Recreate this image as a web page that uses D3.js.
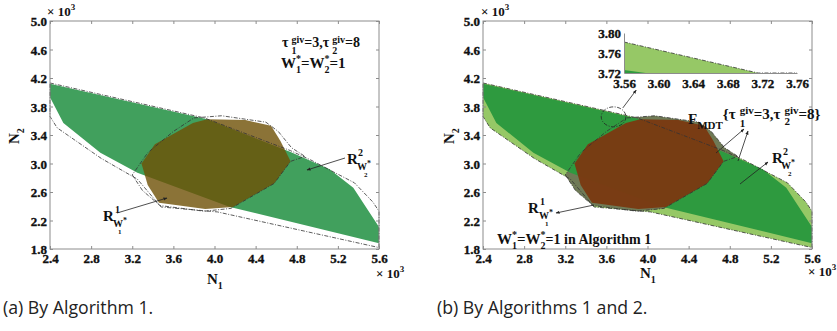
<!DOCTYPE html>
<html>
<head>
<meta charset="utf-8">
<script src="https://cdn.jsdelivr.net/npm/d3@7"></script>
<style>
  body { margin: 0; background: #fff; }
  svg { display: block; }
  .serif { font-family: "Liberation Serif", "Times New Roman", serif; font-weight: bold; fill: #111; }
</style>
</head>
<body>
<svg id="chart" width="837" height="331"></svg>
<script>
// axis ticks (x1000)
const xTicks = [2.4, 2.8, 3.2, 3.6, 4.0, 4.4, 4.8, 5.2, 5.6];
const yTicks = [1.8, 2.2, 2.6, 3.0, 3.4, 3.8, 4.2, 4.6, 5.0];

// R^2_{W2*} region (green)
const r2Region = [[2.4, 4.12], [3.93, 3.62], [4.74, 3.16], [5.12, 2.92], [5.35, 2.66], [5.49, 2.35],
  [5.6, 2.11], [5.6, 1.88], [4.15, 2.39], [3.25, 2.87], [2.89, 3.15], [2.53, 3.57], [2.4, 3.93]];
// R^1_{W1*} region (brown)
const r1Region = [[3.79, 3.57], [3.93, 3.62], [4.30, 3.61], [4.55, 3.53], [4.64, 3.32], [4.74, 3.03],
  [4.58, 2.72], [4.18, 2.39], [3.91, 2.36], [3.46, 2.45], [3.35, 2.70], [3.29, 3.00], [3.42, 3.27]];
// F_MDT boundaries (dash-dot in a, filled in b)
const r2Outer = [[2.4, 4.13], [3.90, 3.64], [4.74, 3.18], [4.95, 3.04], [5.16, 2.88], [5.36, 2.73],
  [5.54, 2.46], [5.6, 2.33], [5.6, 1.82], [4.03, 2.32], [3.48, 2.39], [3.25, 2.78], [2.9, 3.07],
  [2.47, 3.50], [2.4, 3.66]];
const r1Outer = [[3.80, 3.64], [4.07, 3.67], [4.50, 3.58], [4.62, 3.45], [4.75, 3.22], [4.88, 3.10],
  [4.74, 3.03], [4.58, 2.72], [4.16, 2.37], [3.90, 2.33], [3.47, 2.41], [3.30, 2.62], [3.20, 2.84],
  [3.35, 3.15], [3.60, 3.45]];

// zoomed inset of panel (b)
const insetXTicks = [3.56, 3.60, 3.64, 3.68, 3.72, 3.76];
const insetYTicks = [3.72, 3.76, 3.80];
const insetLight = [[3.56, 3.782], [3.715, 3.72], [3.56, 3.72]];
const insetDark = [[3.56, 3.726], [3.585, 3.72], [3.56, 3.72]];
const insetEdge = [[3.56, 3.782], [3.715, 3.72], [3.76, 3.72]];

const svg = d3.select('#chart');
const fmt = d3.format('.1f');
const SERIF = '"Liberation Serif", "Times New Roman", serif';

const defs = svg.append('defs');
defs.append('marker').attr('id', 'arr').attr('viewBox', '0 0 10 10')
  .attr('refX', 9).attr('refY', 5).attr('markerWidth', 5).attr('markerHeight', 5)
  .attr('orient', 'auto')
  .append('path').attr('d', 'M0,1L10,5L0,9Z').attr('fill', '#222');

function txt(g, x, y, s, size, cls) {
  return g.append('text').attr('class', cls || 'serif').attr('x', x).attr('y', y)
    .attr('font-size', size).text(s);
}

// text run with super/sub scripts; stack:true puts a part under the previous one
function rich(g, x0, y0, parts) {
  let cx = x0, lastStart = x0, lastEnd = x0;
  parts.forEach(p => {
    const px = p.stack ? lastStart : cx;
    const t = txt(g, px, y0 + (p.dy || 0), p.t, p.s || 13);
    const w = t.node().getComputedTextLength();
    if (p.stack) { cx = Math.max(lastEnd, px + w); lastEnd = cx; }
    else { lastStart = px; lastEnd = px + w; cx = lastEnd + (p.gap || 0); }
  });
  return cx;
}

function styleTicks(a) {
  a.attr('font-family', null).attr('font-size', null);
  a.selectAll('line').attr('stroke', '#8c8c8c');
  a.selectAll('text')
    .attr('font-family', SERIF).attr('font-weight', 'bold').attr('font-size', 13)
    .attr('fill', '#111').attr('stroke', '#111').attr('stroke-width', 0.35);
}

function frame(g, x, y, xt, yt, tickFmt) {
  const [x0, x1] = x.range(), [y0, y1] = y.range();
  g.append('rect').attr('x', x0).attr('y', y1).attr('width', x1 - x0).attr('height', y0 - y1)
    .attr('fill', 'none').attr('stroke', '#8c8c8c').attr('stroke-width', 1);
  const ax = g.append('g').attr('transform', `translate(0,${y0})`)
    .call(d3.axisBottom(x).tickValues(xt).tickFormat(tickFmt).tickSizeInner(-3).tickSizeOuter(0).tickPadding(6));
  const at = g.append('g').attr('transform', `translate(0,${y1})`)
    .call(d3.axisTop(x).tickValues(xt).tickFormat(() => '').tickSizeInner(-3).tickSizeOuter(0));
  const ay = g.append('g').attr('transform', `translate(${x0},0)`)
    .call(d3.axisLeft(y).tickValues(yt).tickFormat(tickFmt).tickSizeInner(-3).tickSizeOuter(0).tickPadding(3));
  const ar = g.append('g').attr('transform', `translate(${x1},0)`)
    .call(d3.axisRight(y).tickValues(yt).tickFormat(() => '').tickSizeInner(-3).tickSizeOuter(0));
  [ax, at, ay, ar].forEach(a => { a.select('.domain').remove(); styleTicks(a); });
  ay.selectAll('text').attr('dy', '0.35em');
  ax.selectAll('text').attr('dy', '0.6em');
}

function poly(g, x, y, pts, fill, opacity) {
  return g.append('path').datum(pts)
    .attr('d', d3.line().x(d => x(d[0])).y(d => y(d[1]))(pts) + 'Z')
    .attr('fill', fill).attr('fill-opacity', opacity == null ? 1 : opacity);
}

function dashed(g, x, y, pts, closed) {
  g.append('path').datum(pts)
    .attr('d', d3.line().x(d => x(d[0])).y(d => y(d[1]))(pts) + (closed ? 'Z' : ''))
    .attr('fill', 'none').attr('stroke', '#333').attr('stroke-width', 0.8)
    .attr('stroke-dasharray', '4,1.5,1,1.5');
}

function arrow(g, x1, y1, x2, y2) {
  g.append('line').attr('x1', x1).attr('y1', y1).attr('x2', x2).attr('y2', y2)
    .attr('stroke', '#222').attr('stroke-width', 0.8).attr('marker-end', 'url(#arr)');
}

function tenCube(g, x, y) {
  rich(g, x, y, [{ t: '× 10', s: 13 }, { t: '3', s: 9, dy: -6 }]);
}

// ---------- panel (a) ----------
{
  const g = svg.append('g');
  const x = d3.scaleLinear().domain([2.4, 5.6]).range([50, 379]);
  const y = d3.scaleLinear().domain([1.8, 5.0]).range([249, 21]);

  poly(g, x, y, r2Region, '#41a05d');
  poly(g, x, y, r1Region, '#6e5005', 0.8);
  dashed(g, x, y, r2Outer, true);
  dashed(g, x, y, r1Outer, true);
  frame(g, x, y, xTicks, yTicks, fmt);

  tenCube(g, 47, 16);
  tenCube(g, 376, 278);
  rich(g, 207, 284, [{ t: 'N', s: 15 }, { t: '1', s: 10, dy: 5 }]);
  const n2 = g.append('g').attr('transform', 'translate(19,144) rotate(-90)');
  rich(n2, 0, 0, [{ t: 'N', s: 15 }, { t: '2', s: 10, dy: 5 }]);

  rich(g, 282, 47, [{ t: 'τ', s: 14, gap: 3 }, { t: 'giv', s: 10, dy: -4 }, { t: '1', s: 10, dy: 7, stack: true },
    { t: '=3,τ', s: 14, gap: 3 }, { t: 'giv', s: 10, dy: -4 }, { t: '2', s: 10, dy: 7, stack: true }, { t: '=8', s: 14 }]);
  rich(g, 281, 68, [{ t: 'W', s: 15 }, { t: '*', s: 10, dy: -6 }, { t: '1', s: 10, dy: 5, stack: true },
    { t: '=W', s: 15 }, { t: '*', s: 10, dy: -6 }, { t: '2', s: 10, dy: 5, stack: true }, { t: '=1', s: 15 }]);

  // R^2 label
  txt(g, 347, 164, 'R', 15); txt(g, 358, 156, '2', 10);
  txt(g, 357, 170, 'W', 10); txt(g, 367, 166, '*', 8); txt(g, 364, 177, '2', 7);
  arrow(g, 345, 158, 307, 170);
  // R^1 label
  txt(g, 103, 221, 'R', 15); txt(g, 115, 213, '1', 10);
  txt(g, 113, 227, 'W', 10); txt(g, 123, 223, '*', 8); txt(g, 118, 234, '1', 7);
  arrow(g, 117, 213, 167, 198);

  txt(g, 3, 314, '(a) By Algorithm 1.', 17.7, 'cap');
}

// ---------- panel (b) ----------
{
  const g = svg.append('g');
  const x = d3.scaleLinear().domain([2.4, 5.6]).range([483, 812]);
  const y = d3.scaleLinear().domain([1.8, 5.0]).range([249, 21]);

  poly(g, x, y, r2Outer, '#96c866');
  poly(g, x, y, r1Outer, '#6f7a56');
  poly(g, x, y, r2Region, '#2e9a3f');
  poly(g, x, y, r1Region, '#7a3a12', 0.97);
  dashed(g, x, y, r2Outer, true);
  dashed(g, x, y, r1Outer, true);
  frame(g, x, y, xTicks, yTicks, fmt);

  // dashed ellipse marking the zoomed spot
  g.append('ellipse').attr('cx', x(3.67)).attr('cy', y(3.655)).attr('rx', x(3.79) - x(3.67)).attr('ry', y(3.5) - y(3.64))
    .attr('fill', 'none').attr('stroke', '#222').attr('stroke-width', 0.8).attr('stroke-dasharray', '4,1.5,1,1.5');
  arrow(g, x(3.76), y(3.78), x(3.89), y(4.03));

  // inset
  const ix = d3.scaleLinear().domain([3.56, 3.76]).range([624, 797]);
  const iy = d3.scaleLinear().domain([3.72, 3.80]).range([73, 33]);
  g.append('rect').attr('x', 624).attr('y', 33).attr('width', 173).attr('height', 40).attr('fill', '#fff');
  poly(g, ix, iy, insetLight, '#96c866');
  poly(g, ix, iy, insetDark, '#2e9a3f');
  dashed(g, ix, iy, insetEdge, false);
  const bx = g.append('g').attr('transform', 'translate(0,73)')
    .call(d3.axisBottom(ix).tickValues(insetXTicks).tickFormat(d3.format('.2f')).tickSize(0).tickPadding(7));
  const by = g.append('g').attr('transform', 'translate(624,0)')
    .call(d3.axisLeft(iy).tickValues(insetYTicks).tickFormat(d3.format('.2f')).tickSize(0).tickPadding(3));
  [bx, by].forEach(a => { a.select('.domain').attr('stroke', '#8c8c8c'); styleTicks(a); });
  by.selectAll('text').attr('dy', '0.35em');
  bx.selectAll('text').attr('dy', '0.6em');

  tenCube(g, 481, 16);
  tenCube(g, 808, 276);
  rich(g, 640, 278, [{ t: 'N', s: 15 }, { t: '1', s: 10, dy: 5 }]);
  const n2 = g.append('g').attr('transform', 'translate(454,144) rotate(-90)');
  rich(n2, 0, 0, [{ t: 'N', s: 15 }, { t: '2', s: 10, dy: 5 }]);

  // F_MDT label
  rich(g, 688, 124, [{ t: 'F', s: 15 }, { t: 'MDT', s: 11, dy: 5 }, { t: '{τ', s: 15, dy: -5, gap: 4 },
    { t: 'giv', s: 11, dy: -10 }, { t: '1', s: 11, dy: 3, stack: true },
    { t: '=3,τ', s: 15, dy: -5, gap: 4 }, { t: 'giv', s: 11, dy: -10 }, { t: '2', s: 11, dy: 1, stack: true },
    { t: '=8}', s: 15, dy: -5 }]);
  arrow(g, 716, 153, 744, 129);
  arrow(g, 738, 161, 748, 131);

  // R^2 label
  txt(g, 772, 163, 'R', 15); txt(g, 783, 155, '2', 10);
  txt(g, 781, 169, 'W', 10); txt(g, 791, 165, '*', 8); txt(g, 788, 176, '2', 7);
  arrow(g, 740, 184, 768, 162);
  // R^1 label
  txt(g, 528, 213, 'R', 15); txt(g, 540, 205, '1', 10);
  txt(g, 539, 219, 'W', 10); txt(g, 549, 215, '*', 8); txt(g, 545, 226, '1', 7);
  arrow(g, 594, 205, 556, 213);

  rich(g, 497, 244, [{ t: 'W', s: 15 }, { t: '*', s: 10, dy: -6 }, { t: '1', s: 10, dy: 5, stack: true },
    { t: '=W', s: 15 }, { t: '*', s: 10, dy: -6 }, { t: '2', s: 10, dy: 5, stack: true },
    { t: '=1 in Algorithm 1', s: 14 }]);

  txt(g, 437, 314, '(b) By Algorithms 1 and 2.', 17.7, 'cap');
}

svg.selectAll('text.cap').attr('font-family', '"Open Sans", "Noto Sans", sans-serif')
  .attr('font-weight', 'normal').attr('fill', '#222');
</script>
</body>
</html>
